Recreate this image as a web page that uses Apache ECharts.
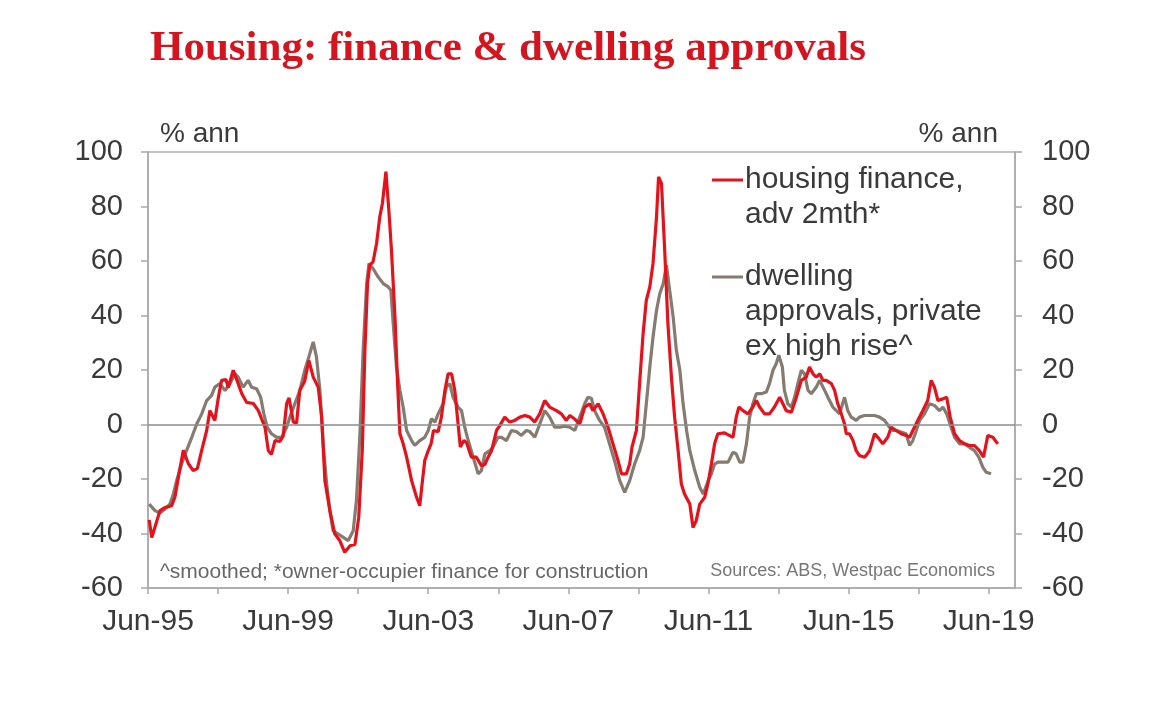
<!DOCTYPE html>
<html>
<head>
<meta charset="utf-8">
<script src="https://cdn.jsdelivr.net/npm/echarts@6/dist/echarts.min.js"></script>
<style>
html,body{margin:0;padding:0;background:#fff;}
#chart{width:1160px;height:704px;}
</style>
</head>
<body>
<div id="chart"></div>
<script>
// x = months since Jun-1995
const xLabels = ['Jun-95','Jun-99','Jun-03','Jun-07','Jun-11','Jun-15','Jun-19'];
const yTicks = [-60,-40,-20,0,20,40,60,80,100];

// housing finance, adv 2mth* (% ann)
const housingFinance = [
[0.4,-35],[1.3,-41.5],[4.1,-31.6],[5.8,-30.5],[8.1,-29.8],[9.2,-26.8],[10.4,-19.4],[12.1,-9.5],[13.8,-14.3],[15.5,-16.9],
[16.9,-16.2],[18.4,-9.5],[20.1,-2.2],[21.2,5.1],[22.9,1.5],[24.1,9.9],[25.2,16.2],[26.7,16.5],[27.5,13.6],[29.2,19.9],
[30.9,15],[32.1,11.4],[33.8,8.1],[36.1,7.7],[37.8,5.1],[40.1,-1.1],[41.2,-9.5],[42.3,-11],[43.5,-5.9],[45.2,-6.2],
[46.3,-4.3],[47.5,7.7],[48.3,9.8],[49.8,0.9],[50.9,0.5],[52.0,12.5],[53.7,16],[55.1,23.5],[56.6,17.4],[58.3,13.7],
[59.5,2.7],[60.6,-20.6],[62.3,-31.6],[64.0,-40.2],[65.7,-42.6],[67.4,-46.9],[69.2,-44.5],[70.9,-44],[72.2,-34],[73.4,-9.6],
[74.3,27.2],[75.2,51.7],[76.0,58.5],[77.1,59.7],[78.3,66.4],[79.4,76.2],[80.3,81.1],[81.5,92.8],[82.5,78.7],[83.4,64],
[84.6,39.5],[85.5,15],[86.3,-3.4],[87.4,-7],[88.6,-12],[90.3,-20.6],[92.0,-26.7],[93.1,-29.8],[93.9,-21.8],[94.8,-13.2],
[96.0,-9.6],[97.0,-7],[97.8,-2.2],[99.4,-2.6],[100.5,2.7],[101.7,12.5],[102.8,18.6],[104.0,18.6],[105.1,12.5],[106.2,0.4],
[107.0,-8.3],[108.2,-5.9],[109.1,-6.6],[110.8,-12],[112.5,-12],[114.2,-15.1],[115.4,-14.7],[116.5,-12],[117.7,-9.6],[119.4,-2.2],
[120.5,-0.4],[122.2,2.7],[123.9,0.9],[125.6,1.5],[127.4,2.7],[129.1,3.3],[130.8,2.7],[132.5,0.9],[134.2,4],[135.9,8.8],
[137.6,6.4],[139.9,5.1],[141.6,3.9],[143.3,1.5],[144.5,3.3],[146.2,2],[147.9,0.2],[149.6,6.4],[151.3,7.6],[152.4,5.1],
[154.2,7.6],[155.9,3.9],[157.6,-1],[159.3,-7.1],[161.0,-13.2],[162.2,-18.1],[163.9,-18.1],[165.0,-14.5],[165.8,-8.3],[167.3,-2.2],
[168.4,15],[169.6,33.3],[170.7,45.6],[171.9,50.5],[173.0,59.1],[174.2,76.2],[174.9,90.9],[175.9,88.5],[177.0,64],[178.1,37],
[179.3,17.4],[180.4,2.7],[181.6,-9.6],[182.7,-21.8],[183.8,-25.5],[185.6,-29.2],[186.7,-37.8],[187.8,-35.3],[189.0,-29.2],[190.7,-26.7],
[191.8,-21.8],[193.0,-14.5],[194.1,-7.1],[195.2,-3.4],[197.5,-3.1],[198.1,-3.4],[200.4,-4.7],[201.5,2.7],[202.4,6.4],[203.8,5.1],
[205.5,3.9],[207.2,6.4],[208.4,8.8],[209.5,6.4],[211.2,3.9],[212.9,3.9],[214.6,6.4],[216.4,10],[217.5,7.6],[218.6,5.1],
[220.4,4.5],[222.1,10],[223.8,16.2],[225.5,17.4],[226.6,21.1],[227.8,18.6],[228.9,17.4],[230.1,18.6],[231.2,16.2],[232.3,16.2],
[234.1,15],[235.2,12.5],[236.3,7.6],[237.5,3.9],[238.6,0.2],[239.2,-3.4],[240.3,-3.4],[241.5,-5.9],[242.6,-9.6],[243.7,-11.4],
[245.5,-12],[247.2,-9.6],[248.9,-3.4],[250.0,-4.7],[251.7,-7.1],[253.4,-4.7],[254.6,-1],[256.3,-2.2],[258.0,-3.4],[259.7,-4],
[260.9,-4.7],[262.0,-2.2],[263.7,1.5],[265.4,5.1],[267.1,8.8],[268.3,16.2],[269.4,13.7],[270.6,8.8],[272.3,9.4],[273.6,10],
[274.8,2.7],[276.3,-3.4],[278.0,-5.9],[279.7,-7.1],[281.4,-7.7],[283.1,-7.7],[284.8,-9.6],[286.2,-12],[287.7,-4],[289.4,-4.7],
[291.1,-7.1]
];

// dwelling approvals, private ex high rise^ (% ann)
const dwellingApprovals = [
[0.4,-29.2],[2.4,-31.6],[4.1,-32.5],[5.8,-31],[7.5,-29.2],[8.7,-25.5],[9.8,-20.6],[11.5,-14.5],[13.2,-9.6],[15.0,-4.7],
[16.7,0.2],[18.4,3.9],[20.1,8.8],[21.8,10.7],[22.9,13.7],[24.6,15],[26.4,12.5],[28.1,15],[29.8,18.6],[30.9,17.4],
[32.6,13.7],[34.3,16.2],[35.5,13.7],[37.2,13.1],[38.6,10],[39.7,3.9],[40.8,-1],[42.3,-3.4],[44.1,-4.7],[45.8,-4.7],
[47.5,-1],[48.6,2.7],[50.3,7.6],[52.0,12.5],[53.7,19.9],[55.1,24.8],[56.6,30.3],[57.7,24.8],[58.9,12.5],[60.0,-7.1],
[61.2,-21.8],[62.3,-31.6],[63.4,-39],[65.2,-40.2],[66.9,-41.4],[68.6,-42.6],[70.3,-39],[71.4,-27.9],[72.6,-3.4],[73.7,27.2],
[74.9,51.7],[75.7,59.1],[77.1,57.2],[78.8,54.2],[80.6,51.7],[82.3,50.5],[83.2,49.3],[84.0,37],[85.1,21.1],[86.3,12.5],
[87.4,6.4],[88.6,-2.2],[90.3,-5.9],[91.4,-7.7],[93.1,-5.9],[94.8,-4.7],[96.0,-2.2],[97.1,2.1],[98.3,0.9],[99.4,3.9],
[101.1,7.6],[102.2,13.7],[103.4,15],[104.5,10],[106.2,6.4],[107.4,5.1],[108.5,-1],[109.7,-5.9],[111.4,-12],[113.1,-18.1],
[114.2,-16.9],[115.4,-10.8],[117.1,-9.6],[118.2,-8.3],[119.9,-4.7],[121.1,-4.7],[122.8,-5.9],[124.5,-2.2],[126.2,-2.6],[127.9,-4],
[129.6,-2.2],[130.8,-2.6],[132.5,-4.7],[134.2,0.2],[135.9,5.1],[137.6,2.7],[139.3,-1],[141.0,-1],[142.7,-0.6],[144.5,-1],
[146.2,-2.2],[147.9,2.7],[149.6,7.6],[150.7,10],[151.9,9.6],[153.0,5.1],[154.7,1.5],[156.4,-1],[158.1,-7.1],[159.8,-13.2],
[161.6,-20.6],[163.3,-24.9],[165.0,-20.6],[166.7,-14.5],[168.4,-9.6],[169.6,-4.7],[170.7,7.6],[171.9,21.1],[173.0,32.1],[174.2,41.9],
[175.3,48],[176.5,51.7],[177.6,58.5],[178.7,49.3],[179.9,39.5],[181.0,27.2],[182.2,19.9],[183.3,7.6],[184.5,-2.2],[185.6,-9.6],
[187.3,-16.9],[189.0,-23],[190.2,-25.5],[191.9,-20.6],[193.0,-18.1],[194.1,-14.5],[195.2,-13.8],[197.5,-13.8],[198.7,-13.8],[200.4,-10.2],
[201.5,-10.8],[202.7,-13.8],[203.8,-13.8],[205.0,-7.1],[206.1,2.7],[207.2,7.6],[208.4,11.3],[210.1,11.3],[211.8,11.9],[212.9,15],
[214.1,19.9],[215.2,22.3],[216.1,25.4],[217.3,21.1],[218.0,12.5],[219.2,7.6],[220.4,6.4],[221.5,10],[222.6,15],[223.8,19.9],
[224.9,18.6],[226.1,12.5],[227.2,11.3],[228.9,13.7],[230.1,16.2],[231.8,12.5],[232.9,10],[234.6,6.4],[235.8,5.1],[236.9,3.9],
[238.6,10],[239.7,5.1],[240.9,2.7],[242.6,1.5],[243.7,2.7],[245.5,3.3],[247.2,3.3],[248.9,3.3],[250.6,2.7],[252.3,1.5],
[254.0,-1],[255.2,-2.2],[256.3,-2.2],[258.0,-2.8],[259.7,-3.4],[260.9,-7.7],[262.0,-5.9],[263.2,-2.2],[264.3,1.5],[266.0,3.9],
[267.7,7.6],[269.4,7],[271.1,5.1],[272.3,6.4],[273.6,3.9],[275.1,-1],[276.3,-4.7],[278.0,-7.1],[279.7,-7.1],[281.4,-8.3],
[283.1,-9.6],[284.6,-12],[286.0,-15.7],[287.1,-17.5],[288.8,-18.1]
];

const RED = '#e5121c';
const GREY = '#857b70';
const TXT = '#3a3a3a';
const FONT = '"Liberation Sans", Arial, sans-serif';

const chart = echarts.init(document.getElementById('chart'));
const yAxisCommon = {
  type: 'value', min: yTicks[0], max: yTicks[yTicks.length-1], interval: 20,
  splitLine: {show: false},
  axisLine: {show: true, lineStyle: {color: '#a8a8a8', width: 1.5}},
  axisTick: {show: true, length: 7, lineStyle: {color: '#a8a8a8', width: 1.5}},
  axisLabel: {color: TXT, fontSize: 29, fontFamily: FONT}
};
chart.setOption({
  animation: false,
  backgroundColor: '#fff',
  grid: {left: 148, right: 145, top: 152, bottom: 116, show: true, borderColor: '#b0b0b0', borderWidth: 1.5},
  xAxis: {
    type: 'value', min: 0, max: 297, interval: 24,
    splitLine: {show: false},
    axisLine: {show: true, onZero: false, lineStyle: {color: '#a8a8a8', width: 1.5}},
    axisTick: {show: true, length: 6, lineStyle: {color: '#a8a8a8', width: 1.5}},
    axisLabel: {
      color: TXT, fontSize: 30, fontFamily: FONT, margin: 19, showMaxLabel: false,
      formatter: v => (v % 48 === 0 && xLabels[v/48]) ? xLabels[v/48] : ''
    }
  },
  yAxis: [
    Object.assign({}, yAxisCommon, {position: 'left', axisLabel: Object.assign({}, yAxisCommon.axisLabel, {margin: 25})}),
    Object.assign({}, yAxisCommon, {position: 'right', axisLabel: Object.assign({}, yAxisCommon.axisLabel, {margin: 27})})
  ],
  series: [
    {
      name: 'dwelling approvals, private ex high rise^', type: 'line', data: dwellingApprovals,
      showSymbol: false, symbol: 'none', smooth: false,
      lineStyle: {color: GREY, width: 3.2}, z: 3,
      markLine: {silent: true, symbol: 'none', label: {show: false},
        lineStyle: {color: '#8c8c8c', width: 1.5, type: 'solid'}, data: [{yAxis: 0}]}
    },
    {
      name: 'housing finance, adv 2mth*', type: 'line', data: housingFinance,
      showSymbol: false, symbol: 'none', smooth: false,
      lineStyle: {color: RED, width: 3.2}, z: 4
    }
  ],
  graphic: [
    {type: 'text', left: 150, top: 27, style: {text: 'Housing: finance & dwelling approvals', fill: '#d4151f',
      font: 'bold 43px "Liberation Serif", "Times New Roman", serif'}},
    {type: 'text', x: 160, y: 134, style: {text: '% ann', fill: TXT, font: '28px ' + FONT, textVerticalAlign: 'middle'}},
    {type: 'text', x: 998, y: 134, style: {text: '% ann', fill: TXT, font: '28px ' + FONT, textAlign: 'right', textVerticalAlign: 'middle'}},
    {type: 'line', shape: {x1: 712, y1: 180, x2: 743, y2: 180}, style: {stroke: RED, lineWidth: 3}},
    {type: 'text', x: 745, y: 162, style: {text: 'housing finance,\nadv 2mth*', fill: TXT, font: '30px ' + FONT, lineHeight: 35, textVerticalAlign: 'top'}},
    {type: 'line', shape: {x1: 712, y1: 277, x2: 743, y2: 277}, style: {stroke: GREY, lineWidth: 3}},
    {type: 'text', x: 745, y: 259, style: {text: 'dwelling\napprovals, private\nex high rise^', fill: TXT, font: '30px ' + FONT, lineHeight: 35, textVerticalAlign: 'top'}},
    {type: 'text', x: 160, y: 572, style: {text: '^smoothed; *owner-occupier finance for construction', fill: '#666', font: '21px ' + FONT, textVerticalAlign: 'middle'}},
    {type: 'text', x: 995, y: 571, style: {text: 'Sources: ABS, Westpac Economics', fill: '#777', font: '18px ' + FONT, textAlign: 'right', textVerticalAlign: 'middle'}}
  ]
});
</script>
</body>
</html>
